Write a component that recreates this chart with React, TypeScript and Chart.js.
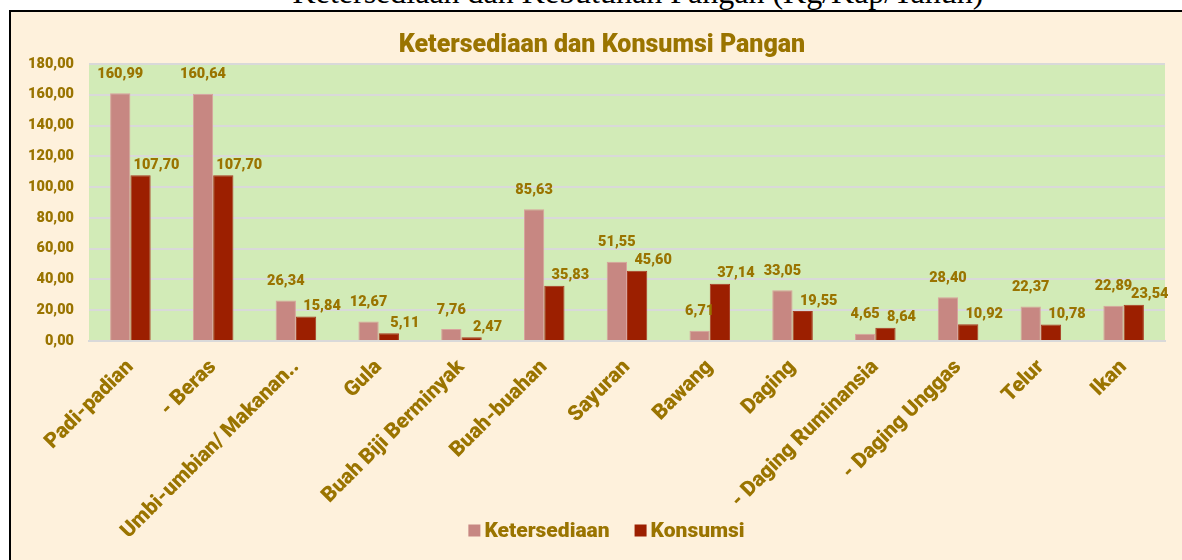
import React, { useEffect, useRef } from "react";
import { Chart, registerables } from "chart.js";

Chart.register(...registerables);

const pageTitle = "Ketersediaan dan Kebutuhan Pangan (Kg/Kap/Tahun)";
const chartTitle = "Ketersediaan dan Konsumsi Pangan";
const categories = [
  "Padi-padian",
  "- Beras",
  "Umbi-umbian/ Makanan..",
  "Gula",
  "Buah Biji Berminyak",
  "Buah-buahan",
  "Sayuran",
  "Bawang",
  "Daging",
  "- Daging Ruminansia",
  "- Daging Unggas",
  "Telur",
  "Ikan",
];
const seriesNames = ["Ketersediaan", "Konsumsi"];
const ketersediaan = [160.99, 160.64, 26.34, 12.67, 7.76, 85.63, 51.55, 6.71, 33.05, 4.65, 28.4, 22.37, 22.89];
const konsumsi = [107.7, 107.7, 15.84, 5.11, 2.47, 35.83, 45.6, 37.14, 19.55, 8.64, 10.92, 10.78, 23.54];
const yMin = 0;
const yMax = 180;
const yStep = 20;

const GOLD = "#9A7400";
const PINK = "#C78782";
const DARKRED = "#9C1F00";
const PLOT_BG = "#D2EBB7";
const CREAM = "#FEF1DC";
const GRID = "#D9D9D9";
const FONT = "Roboto";
const WEIGHT = "900";

const fmt = (v: number) => v.toFixed(2).replace(".", ",");

const W = 1171;
const H = 548;

export default function App() {
  const ref = useRef<HTMLCanvasElement | null>(null);

  useEffect(() => {
    let chart: Chart | null = null;
    let cancelled = false;

    const plotBg = {
      id: "plotBg",
      beforeDraw(c: any) {
        const { ctx, chartArea } = c;
        ctx.save();
        ctx.fillStyle = PLOT_BG;
        ctx.fillRect(chartArea.left, chartArea.top, chartArea.right - chartArea.left, chartArea.bottom - chartArea.top);
        ctx.restore();
      },
    };

    const dataLabels = {
      id: "dataLabels",
      afterDatasetsDraw(c: any) {
        const { ctx } = c;
        ctx.save();
        ctx.font = `${WEIGHT} 14.5px ${FONT}`;
        ctx.fillStyle = GOLD;
        ctx.textAlign = "center";
        ctx.textBaseline = "middle";
        c.data.datasets.forEach((ds: any, di: number) => {
          const meta = c.getDatasetMeta(di);
          meta.data.forEach((bar: any, i: number) => {
            const v = ds.data[i] as number;
            const dx = di === 0 ? 0 : 16;
            const dy = di === 0 ? -19 : -10;
            ctx.fillText(fmt(v), bar.x + dx, bar.y + dy);
          });
        });
        ctx.restore();
      },
    };

    const titleLegend = {
      id: "titleLegend",
      afterDraw(c: any) {
        const { ctx } = c;
        ctx.save();
        ctx.fillStyle = GOLD;
        ctx.textBaseline = "middle";
        ctx.textAlign = "center";
        ctx.font = `${WEIGHT} 25px ${FONT}`;
        ctx.fillText(chartTitle, 591, 34);

        ctx.font = `${WEIGHT} 21px ${FONT}`;
        ctx.textAlign = "left";
        const box = 12;
        const gapText = 4;
        const gapItem = 25;
        const items = c.data.datasets.map((ds: any) => ({
          label: ds.label as string,
          color: ds.backgroundColor as string,
          w: ctx.measureText(ds.label).width,
        }));
        const total =
          items.reduce((s: number, it: any) => s + box + gapText + it.w, 0) + gapItem * (items.length - 1);
        let x = 595.5 - total / 2;
        const y = 518.5;
        items.forEach((it: any) => {
          ctx.fillStyle = it.color;
          ctx.fillRect(x, y - box / 2, box, box);
          ctx.fillStyle = GOLD;
          ctx.fillText(it.label, x + box + gapText, y + 1);
          x += box + gapText + it.w + gapItem;
        });
        ctx.restore();
      },
    };

    const create = () => {
      if (cancelled || !ref.current) return;
      chart = new Chart(ref.current, {
        type: "bar",
        data: {
          labels: categories,
          datasets: [
            {
              label: seriesNames[0],
              data: ketersediaan,
              backgroundColor: PINK,
              borderColor: "#D9A29D",
              borderWidth: 1,
              categoryPercentage: 0.49,
              barPercentage: 1,
            },
            {
              label: seriesNames[1],
              data: konsumsi,
              backgroundColor: DARKRED,
              borderColor: "#A83A20",
              borderWidth: 1,
              categoryPercentage: 0.49,
              barPercentage: 1,
            },
          ],
        },
        options: {
          animation: false,
          responsive: false,
          events: [],
          layout: { padding: { left: 0, right: 17, top: 52, bottom: 0 } },
          plugins: {
            title: { display: false },
            legend: { display: false },
            tooltip: { enabled: false },
          },
          scales: {
            x: {
              grid: { display: false, drawTicks: false },
              border: { display: true, color: GRID, width: 2 },
              ticks: {
                color: GOLD,
                font: { family: FONT, size: 21, weight: WEIGHT },
                minRotation: 45,
                maxRotation: 45,
                autoSkip: false,
                padding: 14,
              },
              afterFit: (s: any) => {
                s.height = 219;
              },
            },
            y: {
              min: yMin,
              max: yMax,
              ticks: {
                stepSize: yStep,
                callback: (v: any) => fmt(Number(v)),
                color: GOLD,
                font: { family: FONT, size: 14.5, weight: WEIGHT },
                padding: 15,
              },
              grid: { color: GRID, lineWidth: 2, drawTicks: false },
              border: { display: false },
              afterFit: (s: any) => {
                s.width = 78;
              },
            },
          },
        },
        plugins: [plotBg, dataLabels, titleLegend],
      } as any);
    };

    const fontsApi = (document as any).fonts;
    if (fontsApi && fontsApi.load) {
      Promise.all([
        fontsApi.load(`${WEIGHT} 21px ${FONT}`),
        fontsApi.load(`32px "Liberation Serif"`),
      ])
        .catch(() => null)
        .then(create);
    } else {
      create();
    }

    return () => {
      cancelled = true;
      if (chart) chart.destroy();
    };
  }, []);

  return (
    <div style={{ position: "fixed", left: 0, top: 0, width: 1182, height: 560, overflow: "hidden", background: "#fff" }}>
      <div
        style={{
          position: "absolute",
          left: 0,
          top: -24,
          width: 1276,
          textAlign: "center",
          fontFamily: '"Liberation Serif", "Times New Roman", serif',
          fontSize: 32,
          lineHeight: "32px",
          whiteSpace: "nowrap",
          color: "#000",
        }}
      >
        {pageTitle}
      </div>
      <div
        style={{
          position: "absolute",
          left: 9,
          top: 10,
          width: 1250,
          height: 650,
          border: "2px solid #000",
          background: CREAM,
        }}
      />
      <div style={{ position: "absolute", left: 11, top: 12, width: W, height: H }}>
        <canvas ref={ref} width={W} height={H} style={{ display: "block", width: W, height: H }} />
      </div>
    </div>
  );
}
